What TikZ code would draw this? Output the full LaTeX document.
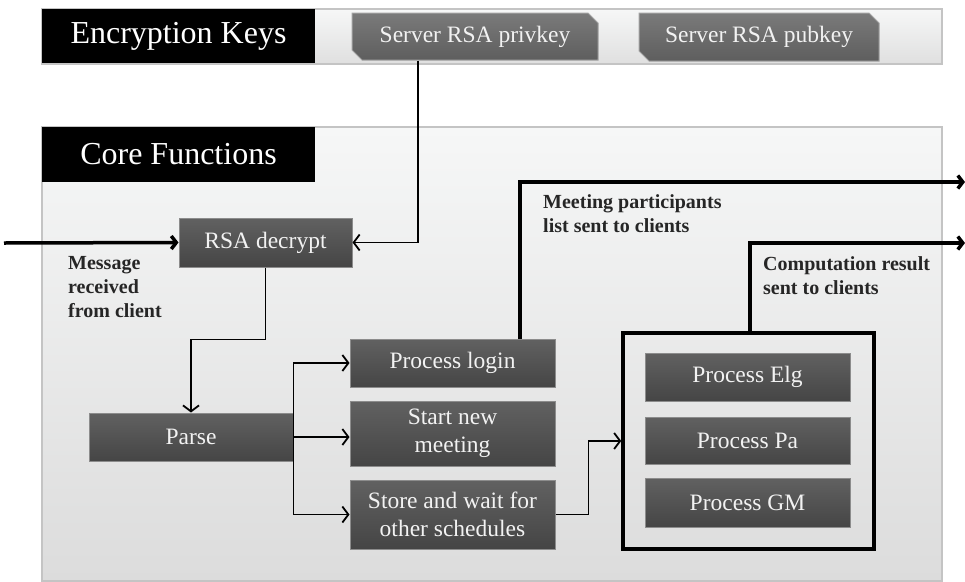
\documentclass[tikz,border=0pt]{standalone}
\usepackage{fontspec}
\setmainfont{Liberation Serif}
\usetikzlibrary{arrows.meta,shapes.misc}
\definecolor{boxtop}{HTML}{616161}
\definecolor{boxbot}{HTML}{454545}
\definecolor{boxline}{HTML}{8C8C8C}
\definecolor{boxtext}{HTML}{F2F2F2}
\definecolor{keytop}{HTML}{7A7A7A}
\definecolor{keybot}{HTML}{5E5E5E}
\definecolor{paneltop}{HTML}{F6F7F7}
\definecolor{panelbot}{HTML}{DCDCDC}
\definecolor{panelline}{HTML}{C4C4C4}
\definecolor{notetext}{HTML}{262626}
\tikzset{
    darkbox/.style={draw=boxline, line width=1pt, top color=boxtop, bottom color=boxbot,
        text=boxtext, align=center, inner sep=2pt, minimum width=205pt, minimum height=48pt,
        font=\fontsize{23.5}{28}\selectfont},
    keybox/.style={darkbox, chamfered rectangle, chamfered rectangle corners={north east,south west},
        chamfered rectangle sep=5pt, top color=keytop, bottom color=keybot, draw=boxline!80},
    titlebox/.style={fill=black, text=white, minimum width=273pt, minimum height=55pt,
        inner sep=0pt, font=\fontsize{32}{38}\selectfont},
    panel/.style={draw=panelline, line width=1.2pt, top color=paneltop, bottom color=panelbot,
        minimum width=900pt, inner sep=0pt},
    link/.style={line width=1.8pt, -{Straight Barb[length=6pt,width=16pt]}},
    flow/.style={line width=3.5pt, -{Straight Barb[length=5pt,width=13pt]}},
    note/.style={text=notetext, align=left, anchor=north west, inner sep=0pt,
        font=\fontsize{20}{24}\selectfont\bfseries}
}
\begin{document}
\begin{tikzpicture}[x=1pt,y=-1pt]
    \useasboundingbox (0,0) rectangle (965,581);
    % Encryption keys
    \node[panel, minimum height=55pt, top color=paneltop, bottom color=panelbot!90] (keys) at (492,36.5) {};
    \node[titlebox, minimum height=54pt] (keystitle) at (178.5,36) {Encryption Keys};
    \node[keybox, minimum width=246pt, minimum height=47pt] (privkey) at (475,36.5) {Server RSA privkey};
    \node[keybox, minimum width=240pt, minimum height=48pt] (pubkey) at (759,37) {Server RSA pubkey};
    % Core functions
    \node[panel, minimum height=454pt] (core) at (492,354) {};
    \node[titlebox] (coretitle) at (178.5,154.5) {Core Functions};
    \node[darkbox, minimum width=173pt, minimum height=49pt] (decrypt) at (265.5,242.5) {RSA decrypt};
    \node[darkbox, minimum width=204pt] (parse) at (191,437) {Parse};
    \node[darkbox] (login) at (452.5,363) {Process login};
    \node[darkbox, minimum height=65pt] (start) at (452.5,433.5) {Start new\\meeting};
    \node[darkbox, minimum height=69pt] (store) at (452.5,514.5) {Store and wait for\\other schedules};
    % Crypto schemes
    \node[draw, line width=3.5pt, minimum width=251pt, minimum height=216pt] (schemes) at (748.5,441) {};
    \node[darkbox] (elg) at (747.5,377) {Process Elg};
    \node[darkbox, minimum height=47pt] (pa) at (747.5,440.5) {Process Pa};
    \node[darkbox, minimum height=49pt] (gm) at (747.5,502.5) {Process GM};
    % Connectors
    \coordinate (msgin) at (4,243);
    \coordinate (listout) at (965,182);
    \coordinate (resultout) at (965,243);
    \draw[flow] (msgin) -- (decrypt.west);
    \draw[link] ([xshift=-57pt]privkey.south) |- (decrypt.east);
    \draw[link] (decrypt.south) -- ++(0,72) -| (parse.north);
    \draw[link] (parse.east) |- (login.west);
    \draw[link] (parse.east) -- (parse.east -| start.west);
    \draw[link] (parse.east) |- (store.west);
    \draw[link] (store.east) -- ++(33,0) |- (schemes.west);
    \draw[flow] ([xshift=67.5pt]login.north) |- (listout);
    \draw[flow] ([xshift=1.5pt]schemes.north) |- (resultout);
    % Labels
    \node[note] (msglabel) at (68,256.5) {Message\\received\\from client};
    \node[note] (listlabel) at (543,194.5) {Meeting participants\\list sent to clients};
    \node[note] (resultlabel) at (763,256.5) {Computation result\\sent to clients};
\end{tikzpicture}
\end{document}
